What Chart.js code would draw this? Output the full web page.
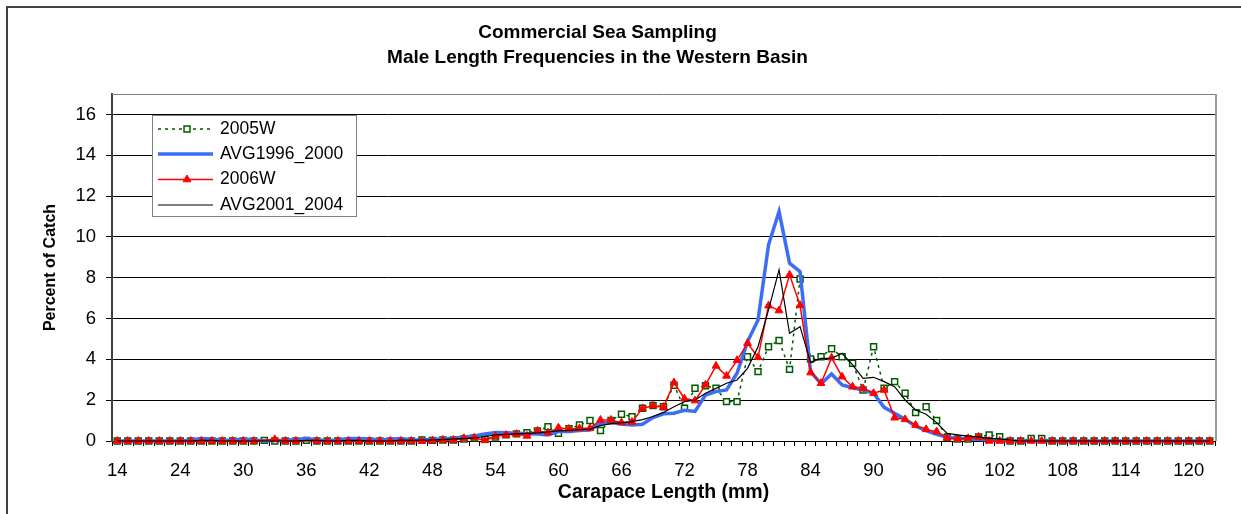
<!DOCTYPE html>
<html>
<head>
<meta charset="utf-8">
<title>Male Length Frequencies - Western Basin</title>
<script src="https://cdn.jsdelivr.net/npm/chart.js@4.4.1/dist/chart.umd.min.js"></script>
<style>
  html, body { margin: 0; padding: 0; background: #fff; }
  #wrap { position: relative; width: 1241px; height: 514px; overflow: hidden; }
</style>
</head>
<body>
<div id="wrap"><canvas id="lengthChart" width="1241" height="514"></canvas></div>
<script>
// Commercial sea sampling - male carapace length frequencies (percent of catch)

// ----------------------------------------------------
// DATA
// ----------------------------------------------------
const categories = [
  "14", "16", "18", "20", "22", "23",
  "24", "25", "26", "27", "28", "29", "30", "31", "32", "33",
  "34", "35", "36", "37", "38", "39", "40", "41", "42", "43",
  "44", "45", "46", "47", "48", "49", "50", "51", "52", "53",
  "54", "55", "56", "57", "58", "59", "60", "61", "62", "63",
  "64", "65", "66", "67", "68", "69", "70", "71", "72", "73",
  "74", "75", "76", "77", "78", "79", "80", "81", "82", "83",
  "84", "85", "86", "87", "88", "89", "90", "91", "92", "93",
  "94", "95", "96", "97", "98", "99", "100", "101", "102", "103",
  "104", "105", "106", "107", "108", "109", "110", "111", "112", "113",
  "114", "115", "116", "117", "118", "119", "120", "121", "122"
];

const xTickLabels = ["14", "24", "30", "36", "42", "48", "54", "60", "66", "72",
  "78", "84", "90", "96", "102", "108", "114", "120"];

const yTickValues = [0, 2, 4, 6, 8, 10, 12, 14, 16];

const seriesNames = ["2005W", "AVG1996_2000", "2006W", "AVG2001_2004"];

const pct2005W = [
  0, 0, 0, 0, 0, 0,
  0, 0, 0, 0, 0, 0, 0, 0, 0.03, 0,
  0, 0, 0.03, 0, 0, 0, 0, 0, 0, 0,
  0, 0, 0, 0.05, 0.03, 0.05, 0.05, 0.1, 0.15, 0.1,
  0.2, 0.3, 0.35, 0.41, 0.49, 0.7, 0.38, 0.6, 0.78, 1.0,
  0.51, 1.0, 1.31, 1.19, 1.6, 1.74, 1.68, 2.73, 1.6, 2.58,
  2.71, 2.58, 1.93, 1.93, 4.13, 3.4, 4.62, 4.92, 3.51, 7.94,
  4.02, 4.13, 4.52, 4.13, 3.81, 2.5, 4.62, 2.58, 2.91, 2.34,
  1.39, 1.68, 1.0, 0.18, 0.1, 0.1, 0.2, 0.29, 0.21, 0,
  0, 0.13, 0.13, 0, 0, 0, 0, 0, 0, 0,
  0, 0, 0, 0, 0, 0, 0, 0, 0
];

const pctAvg1996_2000 = [
  0, 0, 0, 0, 0, 0,
  0, 0.05, 0.12, 0.1, 0.03, 0.05, 0.1, 0.05, 0, 0.02,
  0.03, 0.08, 0.12, 0.05, 0.03, 0.05, 0.12, 0.12, 0.1, 0.05,
  0.08, 0.12, 0.05, 0.05, 0.08, 0.1, 0.13, 0.2, 0.25, 0.35,
  0.42, 0.41, 0.38, 0.36, 0.34, 0.29, 0.46, 0.46, 0.51, 0.54,
  0.87, 0.9, 0.83, 0.78, 0.82, 1.15, 1.33, 1.36, 1.5, 1.45,
  2.25, 2.42, 2.5, 3.32, 4.87, 5.93, 9.61, 11.24, 8.71, 8.3,
  3.4, 2.8, 3.28, 2.75, 2.61, 2.5, 2.34, 1.65, 1.36, 1.06,
  0.73, 0.51, 0.33, 0.18, 0.13, 0.1, 0.08, 0.05, 0.03, 0,
  0, 0, 0, 0, 0, 0, 0, 0, 0, 0,
  0, 0, 0, 0, 0, 0, 0, 0, 0
];

const pct2006W = [
  0, 0, 0, 0, 0, 0,
  0, 0, 0, 0, 0, 0, 0, 0, null, 0.08,
  0, 0, null, 0, 0, 0, 0, 0, 0, 0,
  0, 0, 0, 0, 0.02, 0.05, 0.05, 0.13, 0.16, 0.03,
  0.23, 0.29, 0.34, 0.25, 0.49, 0.41, 0.65, 0.59, 0.62, 0.62,
  1.03, 1.03, 0.9, 0.93, 1.6, 1.73, 1.66, 2.86, 2.07, 1.98,
  2.75, 3.68, 3.19, 3.95, 4.79, 4.1, 6.63, 6.39, 8.14, 6.65,
  3.35, 2.83, 4.08, 3.15, 2.66, 2.58, 2.34, 2.5, 1.14, 1.06,
  0.78, 0.57, 0.46, 0.15, 0.1, 0.13, 0.2, 0, 0, 0,
  0, 0, 0, 0, 0, 0, 0, 0, 0, 0,
  0, 0, 0, 0, 0, 0, 0, 0, 0
];

const pctAvg2001_2004 = [
  0, 0, 0, 0, 0, 0,
  0, 0, 0.03, 0.03, 0, 0, 0, 0, 0, 0,
  0, 0, 0.03, 0.03, 0, 0, 0.03, 0.03, 0, 0,
  0, 0.05, 0.03, 0.05, 0.05, 0.07, 0.1, 0.12, 0.15, 0.22,
  0.3, 0.33, 0.35, 0.37, 0.4, 0.45, 0.5, 0.52, 0.55, 0.58,
  0.75, 0.85, 0.9, 0.95, 1.05, 1.2, 1.4, 1.68, 1.93, 2.01,
  2.34, 2.58, 2.83, 2.99, 3.56, 4.62, 6.42, 8.38, 5.28, 5.6,
  3.85, 4.05, 4.05, 4.3, 3.73, 3.07, 3.12, 2.91, 2.66, 2.01,
  1.52, 1.31, 0.9, 0.37, 0.3, 0.24, 0.2, 0.13, 0.1, 0.05,
  0, 0, 0, 0, 0, 0, 0, 0, 0, 0,
  0, 0, 0, 0, 0, 0, 0, 0, 0
];

// ----------------------------------------------------
// CUSTOM DRAWING (frame, title, legend box)
// ----------------------------------------------------
const FONT = "'Liberation Sans', Arial, sans-serif";

function drawMarker(ctx, style, r, x, y) {
  if (style === "rect") {
    const s = r * Math.SQRT1_2;
    ctx.rect(x - s, y - s, 2 * s, 2 * s);
  } else if (style === "triangle") {
    ctx.moveTo(x, y - r);
    ctx.lineTo(x + r * Math.sin(Math.PI * 2 / 3), y - r * Math.cos(Math.PI * 2 / 3));
    ctx.lineTo(x + r * Math.sin(Math.PI * 4 / 3), y - r * Math.cos(Math.PI * 4 / 3));
    ctx.closePath();
  }
}

const excelLook = {
  id: "excelLook",
  afterDraw(chart) {
    const ctx = chart.ctx;
    const area = chart.chartArea;
    ctx.save();

    // outer chart frame
    ctx.strokeStyle = "#404040";
    ctx.lineWidth = 2;
    ctx.strokeRect(7, 7, 1300, 600);

    // plot area top + right edges
    ctx.strokeStyle = "#808080";
    ctx.lineWidth = 1;
    ctx.beginPath();
    ctx.moveTo(area.left, Math.round(area.top) + 0.5);
    ctx.lineTo(area.right, Math.round(area.top) + 0.5);
    ctx.stroke();
    ctx.strokeStyle = "#9a9a9a";
    ctx.lineWidth = 2;
    ctx.beginPath();
    ctx.moveTo(Math.round(area.right) + 1, area.top);
    ctx.lineTo(Math.round(area.right) + 1, area.bottom);
    ctx.stroke();

    // title
    ctx.fillStyle = "#000";
    ctx.font = "bold 19px " + FONT;
    ctx.textAlign = "center";
    ctx.textBaseline = "middle";
    ctx.fillText("Commercial Sea Sampling", 597.5, 33);
    ctx.fillText("Male Length Frequencies in the Western Basin", 597.5, 58);

    // legend
    const lx = 152, ly = 115, lw = 204, lh = 101;
    ctx.fillStyle = "#fff";
    ctx.fillRect(lx, ly, lw, lh);
    ctx.strokeStyle = "#808080";
    ctx.lineWidth = 1;
    ctx.strokeRect(lx + 0.5, ly + 0.5, lw, lh);

    const rows = [129, 154, 179.5, 205];
    chart.data.datasets.forEach((ds, i) => {
      const y = rows[i];
      ctx.strokeStyle = ds.borderColor;
      ctx.lineWidth = ds.borderWidth;
      ctx.setLineDash(ds.borderDash || []);
      ctx.beginPath();
      ctx.moveTo(158, y);
      ctx.lineTo(213, y);
      ctx.stroke();
      ctx.setLineDash([]);
      if (ds.pointRadius > 0) {
        ctx.fillStyle = ds.pointBackgroundColor;
        ctx.strokeStyle = ds.pointBorderColor;
        ctx.lineWidth = ds.pointBorderWidth;
        ctx.beginPath();
        drawMarker(ctx, ds.pointStyle, ds.pointRadius, 187, y);
        ctx.fill();
        ctx.stroke();
      }
      ctx.fillStyle = "#000";
      ctx.font = "17.5px " + FONT;
      ctx.textAlign = "left";
      ctx.textBaseline = "middle";
      ctx.fillText(ds.label, 220, y);
    });

    ctx.restore();
  }
};

// ----------------------------------------------------
// CHART
// ----------------------------------------------------
Chart.defaults.font.family = FONT;
Chart.defaults.color = "#000";

const ctx = document.getElementById("lengthChart").getContext("2d");

const lengthChart = new Chart(ctx, {
  type: "line",
  data: {
    labels: categories,
    datasets: [
      {
        label: seriesNames[0],
        data: pct2005W,
        borderColor: "#005a00",
        borderWidth: 1.5,
        borderDash: [3, 4],
        pointStyle: "rect",
        pointRadius: 4.2,
        pointBorderWidth: 1.5,
        pointBackgroundColor: "#fff",
        pointBorderColor: "#005a00",
        order: 4
      },
      {
        label: seriesNames[1],
        data: pctAvg1996_2000,
        borderColor: "#3d6df4",
        borderWidth: 3.5,
        pointRadius: 0,
        order: 3
      },
      {
        label: seriesNames[2],
        data: pct2006W,
        borderColor: "#ff0000",
        borderWidth: 1.5,
        pointStyle: "triangle",
        pointRadius: 4.5,
        pointBorderWidth: 1,
        pointBackgroundColor: "#ff0000",
        pointBorderColor: "#ff0000",
        spanGaps: true,
        order: 2
      },
      {
        label: seriesNames[3],
        data: pctAvg2001_2004,
        borderColor: "#000",
        borderWidth: 1.2,
        pointRadius: 0,
        order: 1
      }
    ]
  },
  options: {
    responsive: false,
    animation: false,
    devicePixelRatio: 1,
    datasets: {
      line: { tension: 0, fill: false, clip: false, pointHoverRadius: 0 }
    },
    layout: {
      padding: { top: 94, right: 26, left: 0, bottom: 0 }
    },
    plugins: {
      legend: { display: false },
      title: { display: false },
      tooltip: { enabled: false }
    },
    scales: {
      x: {
        type: "category",
        offset: true,
        afterFit: (scale) => { scale.height = 73; },
        grid: {
          offset: true,
          drawOnChartArea: false,
          drawTicks: true,
          tickLength: 5,
          color: "#000"
        },
        border: { color: "#000", width: 1 },
        ticks: {
          autoSkip: false,
          maxRotation: 0,
          minRotation: 0,
          padding: 14,
          font: { size: 18.5 },
          callback: function (value, index) {
            const lbl = categories[index];
            return xTickLabels.includes(lbl) ? lbl : "";
          }
        },
        title: {
          display: true,
          text: "Carapace Length (mm)",
          font: { size: 19.5, weight: "bold" },
          padding: { top: 0, bottom: 9.3 }
        }
      },
      y: {
        min: 0,
        max: 17,
        bounds: "data",
        afterFit: (scale) => { scale.width = 112; },
        afterBuildTicks: (scale) => {
          scale.ticks = yTickValues.map(v => ({ value: v }));
        },
        grid: {
          color: "#000",
          lineWidth: 1,
          tickLength: 6
        },
        border: { color: "#404040", width: 2 },
        ticks: {
          padding: 10,
          font: { size: 18.5 }
        },
        title: {
          display: true,
          text: "Percent of Catch",
          font: { size: 16, weight: "bold" },
          padding: { top: 41.4, bottom: 0 }
        }
      }
    }
  },
  plugins: [excelLook]
});
</script>
</body>
</html>
